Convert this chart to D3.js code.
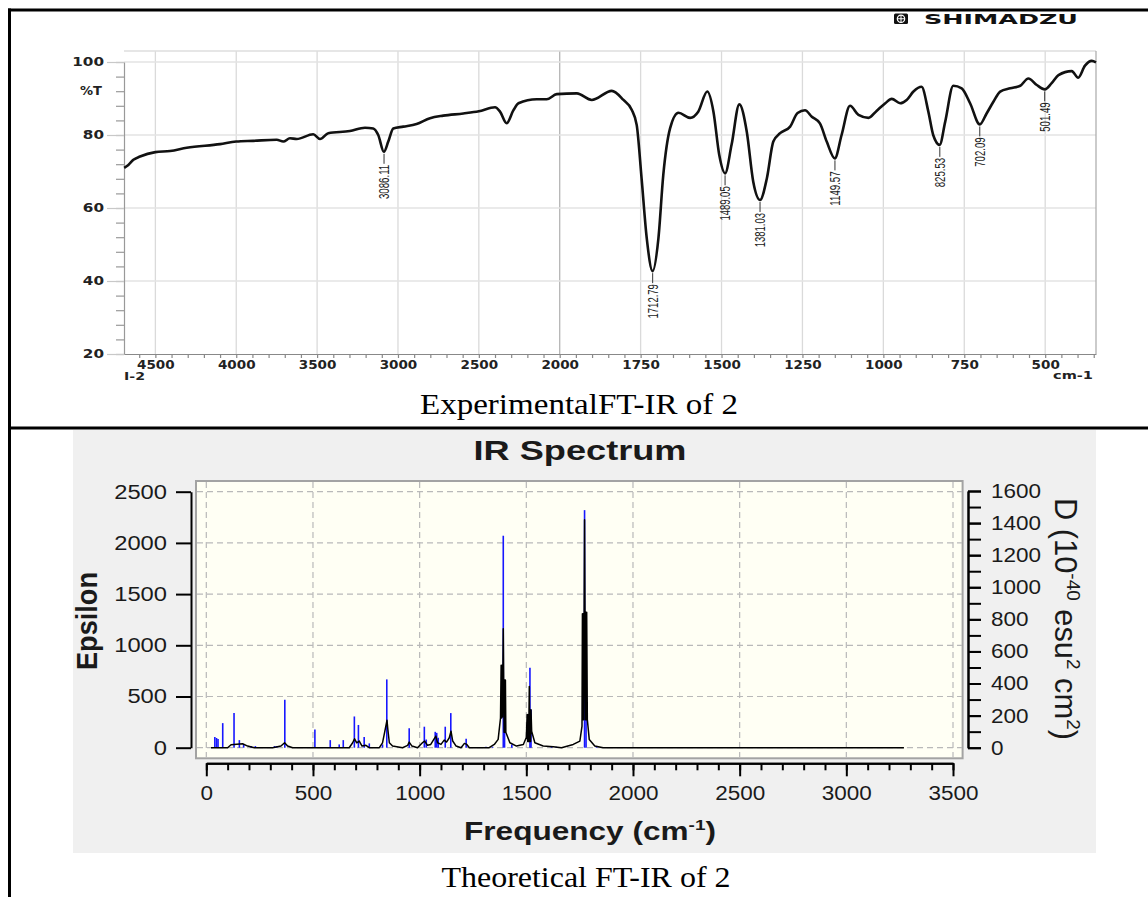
<!DOCTYPE html>
<html>
<head>
<meta charset="utf-8">
<script src="https://cdn.jsdelivr.net/npm/d3@7"></script>
<style>
  body { margin: 0; background: #fff; }
  svg { display: block; }
</style>
</head>
<body>
<svg id="fig"></svg>
<script>
const expWavenumber = [4693, 4667, 4636, 4595, 4500, 4409, 4306, 4100, 4000, 3895, 3750, 3709, 3668, 3626,
  3524, 3482, 3431, 3297, 3204, 3153, 3122, 3087, 3060, 3029, 2967, 2885, 2802, 2720, 2596, 2500, 2400,
  2369, 2328, 2286, 2255, 2142, 2080, 2018, 1947, 1901, 1839, 1803, 1778, 1762, 1747, 1731, 1713, 1695,
  1680, 1659, 1633, 1597, 1572, 1544, 1525, 1507, 1489, 1469, 1445, 1422, 1402, 1381, 1360, 1340, 1319,
  1288, 1265, 1242, 1221, 1196, 1175, 1150, 1129, 1103, 1077, 1046, 1021, 994, 974, 948, 928, 907, 882,
  861, 846, 826, 809, 784, 758, 732, 702, 681, 660, 639, 608, 577, 552, 526, 501, 480, 459, 418, 398,
  377, 356, 343];
const expTransmittance = [71.0, 71.8, 73.2, 74.1, 75.3, 75.6, 76.5, 77.5, 78.2, 78.4, 78.7, 78.2, 79.1, 78.9,
  80.2, 78.9, 80.5, 81.1, 82.0, 81.8, 80.0, 75.4, 78.2, 81.8, 82.3, 83.0, 84.6, 85.3, 85.9, 86.5, 87.6,
  86.4, 83.2, 86.8, 88.7, 89.8, 89.8, 91.2, 91.4, 89.6, 92.1, 89.6, 87.0, 82.7, 68.1, 51.7, 42.7, 51.7,
  69.0, 81.8, 86.1, 84.7, 86.4, 91.9, 86.4, 74.5, 69.5, 77.3, 88.4, 80.9, 67.2, 62.2, 68.1, 78.2, 80.5,
  82.3, 86.0, 86.8, 85.0, 83.2, 78.2, 73.6, 80.0, 88.0, 85.5, 84.7, 86.6, 88.7, 89.9, 88.7, 89.6, 91.9, 93.2,
  86.4, 80.0, 77.3, 83.6, 93.5, 92.8, 88.7, 82.9, 85.9, 89.1, 91.9, 92.8, 93.5, 95.5, 93.7, 92.5, 94.2, 96.4, 97.5, 95.7,
  99.0, 100.3, 99.9];
const peakLabels = ["3086.11", "1712.79", "1489.05", "1381.03", "1149.57", "825.53", "702.09", "501.49"];
const peakMinimum = [75.4, 42.7, 69.5, 62.2, 73.6, 77.3, 82.9, 92.5];
const expXTicks = [4500, 4000, 3500, 3000, 2500, 2000, 1750, 1500, 1250, 1000, 750, 500];
const expYTicks = [20, 40, 60, 80, 100];

/* ---------- Theoretical IR spectrum ---------- */
const stickFreq = [40, 48, 55, 77, 130, 155, 175, 210, 230, 320, 330, 368, 509, 581, 623, 642, 694, 713, 740,
  764, 826, 846, 951, 1022, 1031, 1073, 1080, 1087, 1120, 1146, 1218, 1311, 1342, 1392, 1398, 1432, 1517,
  1522, 1618, 1640, 1773, 1780, 1829];
const stickEpsilon = [105, 95, 85, 240, 338, 74, 32, 16, 16, 16, 16, 468, 178, 74, 32, 74, 305, 222, 105,
  42, 32, 667, 190, 205, 80, 155, 145, 97, 205, 338, 87, 10, 10, 2070, 660, 32, 781,
  371, 10, 10, 2320, 1320, 16];
const curveFreq = [22, 100, 116, 170, 194, 225, 311, 350, 367, 381, 405, 670, 686, 695, 705, 717, 730, 748,
  764, 811, 826, 837, 847, 851, 858, 873, 920, 944, 951, 964, 990, 1013, 1023, 1037, 1052, 1068, 1076,
  1084, 1100, 1115, 1126, 1139, 1147, 1155, 1171, 1194, 1210, 1221, 1233, 1326, 1350, 1368, 1379, 1382,
  1384, 1386, 1388, 1392, 1394, 1396, 1398, 1400, 1402, 1404, 1408, 1423, 1454, 1486, 1500, 1504, 1506,
  1508, 1511, 1514, 1516, 1518, 1520, 1522, 1525, 1540, 1579, 1626, 1665, 1720, 1751, 1761, 1763, 1765,
  1767, 1769, 1771, 1773, 1775, 1777, 1779, 1781, 1783, 1786, 1795, 1821, 1860, 3270];
const curveEpsilon = [0, 0, 29, 39, 16, 0, 0, 16, 48, 16, 0, 0, 48, 87, 48, 65, 16, 23,
  0, 0, 48, 161, 268, 178, 48, 16, 0, 23, 55, 16, 0, 48, 65, 23, 32, 87, 113,
  48, 32, 74, 55, 97, 161, 65, 16, 0, 42, 32, 0, 0, 32, 81, 290, 806,
  290, 806, 300, 1161, 661, 150, 661, 150, 661, 150, 129, 48, 16, 32, 100, 323, 60,
  323, 60, 597, 60, 371, 60, 371, 161, 48, 16, 10, 0, 32, 65, 210, 1307, 274,
  1307, 274, 1307, 2226, 1323, 274, 1323, 274, 1323, 274, 81, 16, 0, 0];
const theoXTicks = [0, 500, 1000, 1500, 2000, 2500, 3000, 3500];
const theoEpsTicks = [0, 500, 1000, 1500, 2000, 2500];
const theoDTicks = [0, 200, 400, 600, 800, 1000, 1200, 1400, 1600];

const svg = d3.select("#fig").attr("width", 1148).attr("height", 897);
svg.append("rect").attr("width", 1148).attr("height", 897).attr("fill", "#fff");
const plain = d3.format("d");

/* table rules */
svg.append("line").attr("x1", 8).attr("x2", 1148).attr("y1", 10).attr("y2", 10)
  .attr("stroke", "#000").attr("stroke-width", 3);
svg.append("line").attr("x1", 8).attr("x2", 1148).attr("y1", 428).attr("y2", 428)
  .attr("stroke", "#000").attr("stroke-width", 3);
svg.append("line").attr("x1", 9.5).attr("x2", 9.5).attr("y1", 8.5).attr("y2", 897)
  .attr("stroke", "#000").attr("stroke-width", 3);

/* ================= top chart ================= */
const xExp = d3.scaleLinear().domain([4694, 2000, 343]).range([124, 559.7, 1096]);
const yExp = d3.scaleLinear().domain([20, 100]).range([354, 62]);
const wide = "'DejaVu Sans', Verdana, sans-serif";
const exp = svg.append("g");

exp.selectAll(".vgrid").data(expXTicks).join("line")
  .attr("x1", d => xExp(d)).attr("x2", d => xExp(d)).attr("y1", 51).attr("y2", 354)
  .attr("stroke", d => d === 2000 ? "#b5b5b5" : "#dadada").attr("stroke-width", 1.3);
exp.selectAll(".hgrid").data(expYTicks.filter(d => d > 20)).join("line")
  .attr("x1", 124).attr("x2", 1096).attr("y1", d => yExp(d)).attr("y2", d => yExp(d))
  .attr("stroke", "#e3e3e3").attr("stroke-width", 1.5);
exp.append("line").attr("x1", 124).attr("x2", 1096).attr("y1", 51).attr("y2", 51)
  .attr("stroke", "#dedede").attr("stroke-width", 1.5);
exp.append("line").attr("x1", 1096).attr("x2", 1096).attr("y1", 51).attr("y2", 354)
  .attr("stroke", "#a8a8a8").attr("stroke-width", 1.2);

/* y axis: minor every 4 %T, labelled every 20 */
exp.append("g").attr("transform", "translate(124,0)")
  .call(d3.axisLeft(yExp).tickValues(d3.range(20, 101, 4)).tickSize(8).tickFormat("").tickSizeOuter(0))
  .call(g => g.selectAll("line,path").attr("stroke", "#999").attr("stroke-width", 1.2));
exp.append("g").attr("transform", "translate(124,0)")
  .call(d3.axisLeft(yExp).tickValues(expYTicks).tickFormat(plain).tickSize(17).tickPadding(3).tickSizeOuter(0))
  .call(g => g.select(".domain").remove())
  .call(g => g.selectAll("line").attr("stroke", "#c8c8c8").attr("stroke-width", 1.2))
  .call(g => g.selectAll("text")
    .attr("font-family", wide).attr("font-weight", "bold").attr("font-size", 11.5).attr("fill", "#222")
    .attr("textLength", d => String(d).length * 10.6).attr("lengthAdjust", "spacingAndGlyphs"));
exp.append("text").attr("x", 102).attr("y", yExp(92)).attr("dy", "0.35em")
  .attr("text-anchor", "end").attr("font-family", wide).attr("font-weight", "bold")
  .attr("font-size", 11.5).attr("fill", "#222").attr("textLength", 22)
  .attr("lengthAdjust", "spacingAndGlyphs").text("%T");

/* x axis: minor ticks, then labels */
const xMinor = d3.range(4600, 2000, -100).concat(d3.range(2000, 340, -50));
exp.append("g").attr("transform", "translate(0,354)")
  .call(d3.axisBottom(xExp).tickValues(xMinor).tickSize(4).tickFormat("").tickSizeOuter(0))
  .call(g => g.selectAll("line,path").attr("stroke", "#888").attr("stroke-width", 1.2));
exp.append("g").attr("transform", "translate(0,354)")
  .call(d3.axisBottom(xExp).tickValues(expXTicks).tickFormat(plain).tickSize(0).tickPadding(7))
  .call(g => g.select(".domain").remove())
  .call(g => g.selectAll("text")
    .attr("font-family", wide).attr("font-weight", "bold").attr("font-size", 11.5).attr("fill", "#222")
    .attr("textLength", d => String(d).length * 9.4).attr("lengthAdjust", "spacingAndGlyphs"));
exp.append("text").attr("x", 124).attr("y", 380).attr("font-family", wide).attr("font-weight", "bold")
  .attr("font-size", 10).attr("fill", "#222").attr("textLength", 21)
  .attr("lengthAdjust", "spacingAndGlyphs").text("I-2");
exp.append("text").attr("x", 1093).attr("y", 379).attr("text-anchor", "end").attr("font-family", wide)
  .attr("font-weight", "bold").attr("font-size", 11).attr("fill", "#222").attr("textLength", 40)
  .attr("lengthAdjust", "spacingAndGlyphs").text("cm-1");

/* trace */
const expLine = d3.line().x(d => xExp(d[0])).y(d => yExp(d[1])).curve(d3.curveMonotoneX);
exp.append("path").datum(d3.zip(expWavenumber, expTransmittance))
  .attr("d", expLine).attr("fill", "none").attr("stroke", "#111").attr("stroke-width", 2.6)
  .attr("stroke-linejoin", "round");

/* peak picks */
peakLabels.forEach((lab, i) => {
  const x = xExp(+lab), y0 = yExp(peakMinimum[i]);
  exp.append("line").attr("x1", x).attr("x2", x).attr("y1", y0 + 2).attr("y2", y0 + 12)
    .attr("stroke", "#333").attr("stroke-width", 1);
  exp.append("text").attr("transform", `translate(${x},${y0 + 13}) rotate(-90)`)
    .attr("dy", "0.36em").attr("text-anchor", "end")
    .attr("font-family", "'Liberation Sans', Arial, sans-serif").attr("font-size", 14).attr("fill", "#1a1a1a")
    .attr("textLength", lab.length * 4.9).attr("lengthAdjust", "spacingAndGlyphs").text(lab);
});

/* maker mark */
const logo = exp.append("g").attr("transform", "translate(894,13.5)");
logo.append("rect").attr("width", 14).attr("height", 10.5).attr("rx", 1.5).attr("fill", "#111");
logo.append("circle").attr("cx", 7).attr("cy", 5.25).attr("r", 3.7).attr("fill", "none")
  .attr("stroke", "#fff").attr("stroke-width", 1.2);
logo.append("path").attr("d", "M7,1.5V9M3.3,5.25H10.7").attr("stroke", "#fff").attr("stroke-width", 1);
exp.append("text").attr("x", 924).attr("y", 23.5).attr("font-family", wide).attr("font-weight", "bold")
  .attr("font-size", 14).attr("fill", "#111").attr("textLength", 154)
  .attr("lengthAdjust", "spacingAndGlyphs").text("SHIMADZU");

svg.append("text").attr("x", 579).attr("y", 413.5).attr("text-anchor", "middle")
  .attr("font-family", "'Liberation Serif', 'Times New Roman', serif").attr("font-size", 30)
  .attr("fill", "#000").attr("textLength", 318).attr("lengthAdjust", "spacingAndGlyphs")
  .text("ExperimentalFT-IR of 2");

/* ================= bottom chart ================= */
const xTh = d3.scaleLinear().domain([0, 3500]).range([206.3, 953]);
const yEps = d3.scaleLinear().domain([0, 2500]).range([747.7, 491.7]);
const yD = d3.scaleLinear().domain([0, 1600]).range([747.7, 491]);
const sans = "'Liberation Sans', Arial, sans-serif";
const th = svg.append("g");

th.append("rect").attr("x", 73).attr("y", 430).attr("width", 1023).attr("height", 423).attr("fill", "#f0f0f0");
th.append("rect").attr("x", 196).attr("y", 481).attr("width", 766.6).attr("height", 277.3)
  .attr("fill", "#fffff4").attr("stroke", "#a3a3a3").attr("stroke-width", 2);

th.selectAll(".vdash").data(theoXTicks).join("line")
  .attr("x1", d => xTh(d)).attr("x2", d => xTh(d)).attr("y1", 482).attr("y2", 757.5)
  .attr("stroke", "#b9b9b9").attr("stroke-width", 1.2).attr("stroke-dasharray", "6,4");
th.selectAll(".hdash").data(theoEpsTicks).join("line")
  .attr("x1", 197).attr("x2", 962).attr("y1", d => yEps(d)).attr("y2", d => yEps(d))
  .attr("stroke", "#b9b9b9").attr("stroke-width", 1.2).attr("stroke-dasharray", "6,4");

/* sticks then broadened curve */
th.selectAll(".stick").data(d3.zip(stickFreq, stickEpsilon)).join("line")
  .attr("x1", d => xTh(d[0])).attr("x2", d => xTh(d[0]))
  .attr("y1", yEps(0)).attr("y2", d => yEps(d[1]))
  .attr("stroke", "#1717ff").attr("stroke-width", 1.6);
const thLine = d3.line().x(d => xTh(d[0])).y(d => yEps(d[1]));
th.append("path").datum(d3.zip(curveFreq, curveEpsilon))
  .attr("d", thLine).attr("fill", "none").attr("stroke", "#000").attr("stroke-width", 1.5)
  .attr("stroke-linejoin", "round");

function tickStyle(g, perChar) {
  g.selectAll("line,path").attr("stroke", "#000").attr("stroke-width", 2);
  g.selectAll("text").attr("font-family", sans).attr("font-size", 20).attr("fill", "#1a1a1a")
    .attr("textLength", d => String(d).length * perChar).attr("lengthAdjust", "spacingAndGlyphs");
}
th.append("g").attr("transform", "translate(191,0)")
  .call(d3.axisLeft(yEps).tickValues(theoEpsTicks).tickFormat(plain).tickSize(15).tickPadding(9).tickSizeOuter(0))
  .call(g => tickStyle(g, 13.2));
th.append("g").attr("transform", "translate(968,0)")
  .call(d3.axisRight(yD).tickValues(d3.range(0, 1601, 100)).tickSize(13).tickFormat("").tickSizeOuter(0))
  .call(g => tickStyle(g, 12.5));
th.append("g").attr("transform", "translate(968,0)")
  .call(d3.axisRight(yD).tickValues(theoDTicks).tickFormat(plain).tickSize(13).tickPadding(10).tickSizeOuter(0))
  .call(g => tickStyle(g, 12.5));
th.append("g").attr("transform", "translate(0,763.3)")
  .call(d3.axisBottom(xTh).tickValues(d3.range(0, 3501, 100)).tickSize(7).tickFormat("").tickSizeOuter(0))
  .call(g => tickStyle(g, 12.5));
th.append("g").attr("transform", "translate(0,763.3)")
  .call(d3.axisBottom(xTh).tickValues(theoXTicks).tickFormat(plain).tickSize(13).tickPadding(10).tickSizeOuter(0))
  .call(g => tickStyle(g, 12.5));

th.append("text").attr("x", 580).attr("y", 460).attr("text-anchor", "middle")
  .attr("font-family", sans).attr("font-weight", "bold").attr("font-size", 28).attr("fill", "#1a1a1a")
  .attr("textLength", 213).attr("lengthAdjust", "spacingAndGlyphs").text("IR Spectrum");

const fx = th.append("text").attr("x", 590).attr("y", 840).attr("text-anchor", "middle")
  .attr("font-family", sans).attr("font-weight", "bold").attr("font-size", 25).attr("fill", "#1a1a1a")
  .attr("textLength", 252).attr("lengthAdjust", "spacingAndGlyphs");
fx.append("tspan").text("Frequency (cm");
fx.append("tspan").attr("font-size", 15).attr("dy", -10).text("-1");
fx.append("tspan").attr("dy", 10).text(")");

th.append("text").attr("transform", "translate(97,621) rotate(-90) scale(1,1.15)")
  .attr("text-anchor", "middle").attr("font-family", sans).attr("font-weight", "bold")
  .attr("font-size", 26).attr("fill", "#1a1a1a").attr("textLength", 98)
  .attr("lengthAdjust", "spacingAndGlyphs").text("Epsilon");

const fd = th.append("text").attr("transform", "translate(1055,619) rotate(90) scale(1,1.18)")
  .attr("text-anchor", "middle").attr("font-family", sans)
  .attr("font-size", 26).attr("fill", "#1a1a1a").attr("textLength", 242)
  .attr("lengthAdjust", "spacingAndGlyphs");
fd.append("tspan").text("D (10");
fd.append("tspan").attr("font-size", 16).attr("dy", -10).text("-40");
fd.append("tspan").attr("dy", 10).text(" esu");
fd.append("tspan").attr("font-size", 16).attr("dy", -10).text("2");
fd.append("tspan").attr("dy", 10).text(" cm");
fd.append("tspan").attr("font-size", 16).attr("dy", -10).text("2");
fd.append("tspan").attr("dy", 10).text(")");

svg.append("text").attr("x", 586).attr("y", 886.5).attr("text-anchor", "middle")
  .attr("font-family", "'Liberation Serif', 'Times New Roman', serif").attr("font-size", 30)
  .attr("fill", "#000").attr("textLength", 289).attr("lengthAdjust", "spacingAndGlyphs")
  .text("Theoretical FT-IR of 2");
</script>
</body>
</html>
